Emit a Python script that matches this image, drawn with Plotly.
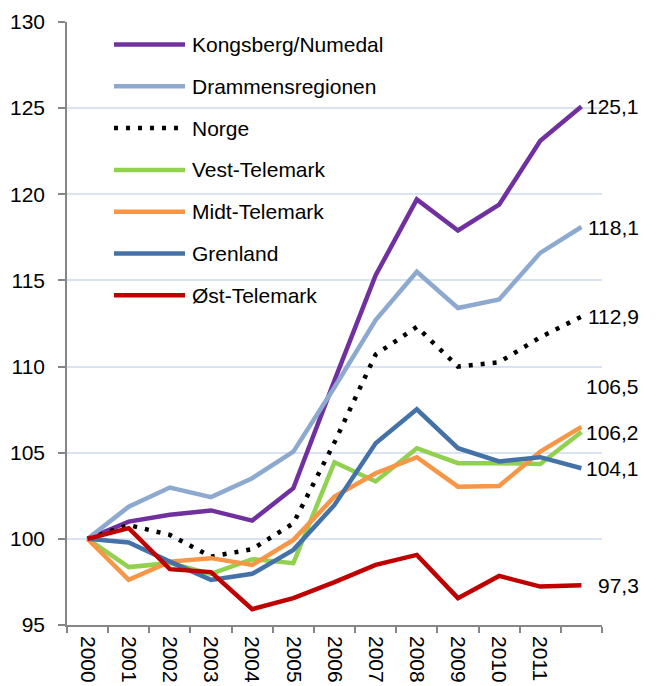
import plotly.graph_objects as go

# ---- data ----
years = [str(y) for y in range(2000, 2013)]
tick_labels = [str(y) for y in range(2000, 2012)] + [""]

series_names = ["Kongsberg/Numedal", "Drammensregionen", "Norge", "Vest-Telemark",
                "Midt-Telemark", "Grenland", "Øst-Telemark"]

kongsberg = [100, 101.0, 101.4, 101.65, 101.06, 102.94, 109.2, 115.3, 119.7, 117.9, 119.4, 123.1, 125.1]
drammen   = [100, 101.87, 102.98, 102.42, 103.52, 105.06, 108.8, 112.7, 115.5, 113.4, 113.9, 116.6, 118.1]
norge     = [100, 100.8, 100.23, 98.97, 99.4, 100.9, 105.6, 110.7, 112.3, 110.0, 110.25, 111.7, 112.9]
vest      = [100, 98.36, 98.59, 97.97, 98.82, 98.59, 104.45, 103.33, 105.26, 104.39, 104.39, 104.35, 106.2]
midt      = [100, 97.62, 98.68, 98.88, 98.49, 99.94, 102.45, 103.81, 104.74, 103.03, 103.07, 105.06, 106.5]
grenland  = [100, 99.79, 98.68, 97.62, 97.97, 99.36, 101.97, 105.55, 107.52, 105.26, 104.49, 104.74, 104.1]
ost       = [100, 100.62, 98.24, 98.07, 95.92, 96.56, 97.49, 98.49, 99.07, 96.56, 97.85, 97.23, 97.3]

values = [kongsberg, drammen, norge, vest, midt, grenland, ost]

# ---- styles ----
colors = ["#7030A0", "#8EA9CF", "#000000", "#92D050", "#F79646", "#4472A8", "#C00000"]
dashes = ["solid", "solid", "4px,8px", "solid", "solid", "solid", "solid"]
label_yshift = [0, 0, 0, 0, 40, 0, 0]

# page has an 8px body margin; figure placed so the plot area lands at
# x 67..602, y 22..625 in the page
OFF = 8
W, H = 659 - OFF, 686 - OFF
ML, MT = 67 - OFF, 22 - OFF
MR = W - (602 - OFF)
MB = H - (625 - OFF)
FONT = "Arial, sans-serif"
FS = 21

def px_x(px):
    return (px - OFF - ML) / (W - ML - MR)

def px_y(py):
    return (H - MB - (py - OFF)) / (H - MT - MB)

fig = go.Figure()
for name, vals, c, d in zip(series_names, values, colors, dashes):
    fig.add_trace(go.Scatter(x=years, y=vals, mode="lines", name=name,
                             line=dict(color=c, width=4.5, dash=d),
                             showlegend=False, hoverinfo="x+y+name"))

# end-of-line value labels
for vals, ys in zip(values, label_yshift):
    fig.add_annotation(x=px_x(641), xref="paper", xanchor="right",
                       y=vals[-1], yref="y", yshift=ys,
                       text=f"{vals[-1]:.1f}".replace(".", ","),
                       showarrow=False, font=dict(size=FS, color="#000000", family=FONT))

# manual legend (long line samples)
leg_y0, leg_dy = 44.5, 41.8
for i, (name, c, d) in enumerate(zip(series_names, colors, dashes)):
    yc = leg_y0 + i * leg_dy
    fig.add_shape(type="line", xref="paper", yref="paper",
                  x0=px_x(114), x1=px_x(185), y0=px_y(yc), y1=px_y(yc),
                  line=dict(color=c, width=4.5, dash=d))
    fig.add_annotation(x=px_x(190), xref="paper", xanchor="left",
                       y=px_y(yc), yref="paper", yanchor="middle",
                       text=name, showarrow=False,
                       font=dict(size=FS, color="#000000", family=FONT))

fig.update_layout(
    width=W, height=H,
    margin=dict(l=ML, r=MR, t=MT, b=MB, pad=0, autoexpand=False),
    paper_bgcolor="white", plot_bgcolor="white",
    font=dict(family=FONT, size=FS, color="#000000"),
    showlegend=False,
)
fig.update_xaxes(type="category", categoryorder="array", categoryarray=years,
                 tickmode="array", tickvals=years, ticktext=tick_labels,
                 tickson="boundaries", ticks="outside", ticklen=6, tickwidth=1.5,
                 tickcolor="#868686", showline=True, linecolor="#868686", linewidth=1.5,
                 showgrid=False, tickangle=90, tickfont=dict(size=FS, family=FONT),
                 ticklabelstandoff=5,
                 automargin=False, range=[-0.5, 12.5])
fig.update_yaxes(range=[95, 130], tickmode="linear", tick0=95, dtick=5,
                 ticks="outside", ticklen=7, tickwidth=1.5, tickcolor="#868686",
                 showline=True, linecolor="#868686", linewidth=1.5,
                 showgrid=True, gridcolor="#D9E3F1", gridwidth=1.5, zeroline=False,
                 ticklabelstandoff=9,
                 automargin=False, tickfont=dict(size=FS, family=FONT))

fig.write_html("out.html")
